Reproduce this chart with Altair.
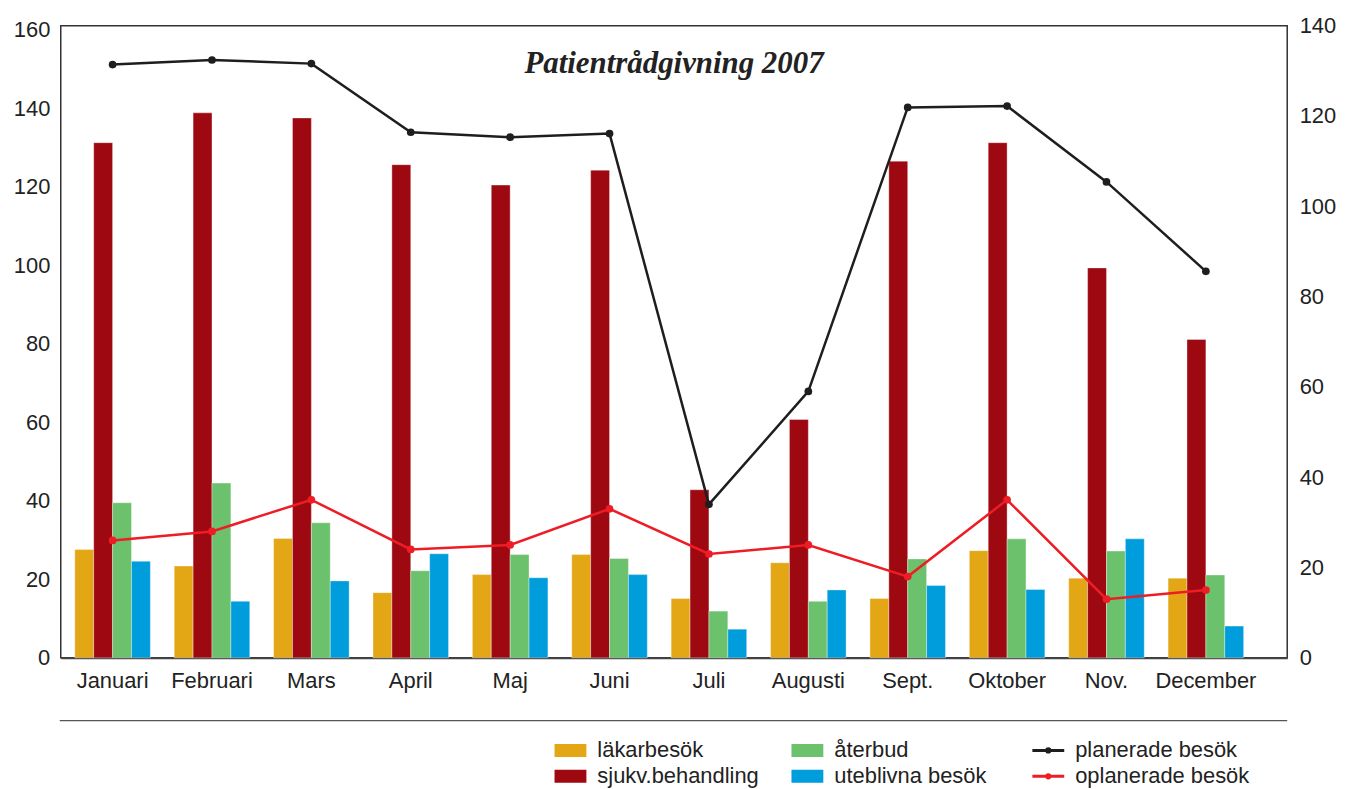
import altair as alt
import pandas as pd

months = ["Januari", "Februari", "Mars", "April", "Maj", "Juni", "Juli",
          "Augusti", "Sept.", "Oktober", "Nov.", "December"]

# bars (left axis)
lakarbesok = [27.6, 23.4, 30.4, 16.6, 21.2, 26.3, 15.1, 24.2, 15.1, 27.3, 20.3, 20.3]
sjukv = [131.2, 138.8, 137.5, 125.6, 120.4, 124.2, 42.8, 60.7, 126.5, 131.2, 99.3, 81.1]
aterbud = [39.5, 44.5, 34.4, 22.2, 26.3, 25.3, 11.9, 14.4, 25.2, 30.3, 27.2, 21.1]
uteblivna = [24.6, 14.4, 19.6, 26.5, 20.4, 21.2, 7.3, 17.3, 18.4, 17.4, 30.3, 8.1]

# lines (right axis)
planerade = [131.4, 132.4, 131.6, 116.4, 115.3, 116.1, 34.0, 59.0, 121.9, 122.2, 105.4, 85.6]
oplanerade = [26, 28, 35, 24, 25, 33, 23, 25, 18, 35, 13, 15]

bar_series = ["läkarbesök", "sjukv.behandling", "återbud", "uteblivna besök"]
bar_colors = ["#E3A614", "#9E0810", "#6CC26C", "#009DDC"]
line_series = ["planerade besök", "oplanerade besök"]
line_colors = ["#1E1E1E", "#EE1C25"]

bar_values = [lakarbesok, sjukv, aterbud, uteblivna]
bar_rows = []
for s, vals in zip(bar_series, bar_values):
    for m, v in zip(months, vals):
        bar_rows.append({"month": m, "serie": s, "value": v})
bar_df = pd.DataFrame(bar_rows)

line_rows = []
for s, vals in zip(line_series, [planerade, oplanerade]):
    for m, v in zip(months, vals):
        line_rows.append({"month": m, "serie2": s, "value2": v})
line_df = pd.DataFrame(line_rows)

W, H = 1232, 635
FONT = "Liberation Sans"

x_enc = alt.X("month:N", sort=months,
              scale=alt.Scale(paddingInner=0.24, paddingOuter=0.29, align=0.244),
              axis=alt.Axis(title=None, labelAngle=0, ticks=False, labelFontSize=22,
                            labelPadding=13, domainColor="#444", domainWidth=2,
                            labelColor="#222", labelFont=FONT))

bars = alt.Chart(bar_df).mark_bar(stroke="white", strokeWidth=0.6, strokeOpacity=0.6).encode(
    x=x_enc,
    xOffset=alt.XOffset("serie:N", sort=bar_series,
                        scale=alt.Scale(paddingInner=0, paddingOuter=0)),
    y=alt.Y("value:Q", scale=alt.Scale(domain=[0, 161], nice=False),
            axis=alt.Axis(values=list(range(0, 161, 20)), title=None, ticks=False,
                          domain=False, grid=False, labelFontSize=22, labelPadding=11,
                          labelColor="#222", labelFont=FONT)),
    color=alt.Color("serie:N",
                    scale=alt.Scale(domain=bar_series, range=bar_colors),
                    legend=alt.Legend(orient="none", legendX=501, legendY=717, columns=2,
                                      title=None, symbolType="M-2,-0.8125H2V0.8125H-2Z",
                                      symbolSize=256, symbolStrokeWidth=0,
                                      labelFontSize=22, labelFont=FONT, labelColor="#222",
                                      labelLimit=400, labelOffset=16, columnPadding=32,
                                      rowPadding=4, padding=0)),
)

lines = alt.Chart(line_df).mark_line(
    strokeWidth=2.5,
    point=alt.OverlayMarkDef(filled=True, size=60)
).encode(
    x=alt.X("month:N", sort=months),
    y=alt.Y("value2:Q", scale=alt.Scale(domain=[0, 140], nice=False),
            axis=alt.Axis(orient="right", values=list(range(0, 141, 20)), title=None,
                          ticks=False, domain=False, grid=False, labelFontSize=22,
                          labelPadding=12, labelColor="#222", labelFont=FONT)),
    color=alt.Color("serie2:N",
                    scale=alt.Scale(domain=line_series, range=line_colors),
                    legend=alt.Legend(orient="none", legendX=981, legendY=717,
                                      title=None,
                                      symbolType="M-2,0H2M-0.2,0A0.2,0.2 0 1,0 0.2,0A0.2,0.2 0 1,0 -0.2,0",
                                      symbolSize=256, symbolStrokeWidth=3,
                                      labelFontSize=22, labelFont=FONT, labelColor="#222",
                                      labelLimit=400, labelOffset=16, rowPadding=4,
                                      padding=0)),
)

title_df = pd.DataFrame({"t": ["Patientrådgivning 2007"]})
title = alt.Chart(title_df).mark_text(
    font="Liberation Serif", fontStyle="italic", fontWeight="bold", fontSize=31,
    color="#222", align="center", baseline="middle"
).encode(text="t:N", x=alt.value(W / 2), y=alt.value(39))

sep_df = pd.DataFrame({"k": [0]})
sep = alt.Chart(sep_df).mark_rule(color="#555", strokeWidth=1.2).encode(
    x=alt.value(-1), x2=alt.value(W), y=alt.value(698))

chart = alt.layer(bars, lines, title, sep).resolve_scale(
    y="independent", color="independent"
).properties(
    width=W, height=H,
    autosize=alt.AutoSizeParams(type="none"),
    padding={"left": 53, "top": 16, "right": 50, "bottom": 134},
).configure_view(stroke="#333", strokeWidth=1.5)

chart.save("out.html", embed_options={"renderer": "svg", "actions": False})
